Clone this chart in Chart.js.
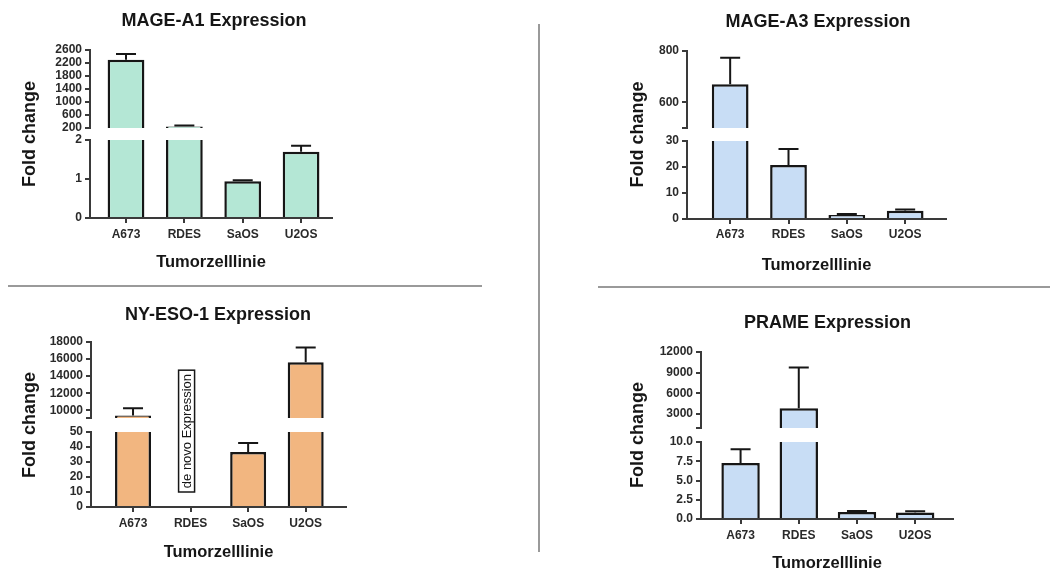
<!DOCTYPE html>
<html lang="de">
<head>
<meta charset="utf-8">
<title>Expression von Tumorantigenen in Tumorzelllinien</title>
<script src="https://cdn.jsdelivr.net/npm/chart.js@4.4.1/dist/chart.umd.min.js"></script>
<style>
  html, body { margin: 0; padding: 0; background: #fff; }
  #page { position: relative; width: 1064px; height: 572px; overflow: hidden; background: #fff; }
  .panel { position: absolute; }
  .rule { position: absolute; background: #9a9a9a; }
</style>
</head>
<body>
<div id="page">
  <div class="panel" id="p-mage-a1"><canvas id="c-mage-a1"></canvas></div>
  <div class="panel" id="p-mage-a3"><canvas id="c-mage-a3"></canvas></div>
  <div class="panel" id="p-ny-eso-1"><canvas id="c-ny-eso-1"></canvas></div>
  <div class="panel" id="p-prame"><canvas id="c-prame"></canvas></div>
  <div class="rule" style="left:8px; top:285px; width:474px; height:2px;"></div>
  <div class="rule" style="left:598px; top:286px; width:452px; height:2px;"></div>
  <div class="rule" style="left:538px; top:24px; width:2px; height:528px;"></div>
</div>
<script>
// ---- data ---------------------------------------------------------------
const cellLines = ['A673', 'RDES', 'SaOS', 'U2OS'];

// fold change (mean) and upper error per cell line
const mageA1Mean = [2300, 250, 0.94, 1.70];
const mageA1Err  = [180, 25, 0.03, 0.15];
const mageA3Mean = [670, 20.8, 1.5, 3.2];
const mageA3Err  = [104, 6.1, 0.4, 0.5];
const nyEso1Mean = [9400, null, 36.7, 15630];
const nyEso1Err  = [830, null, 6, 1730];
const prameMean  = [7.27, 3850, 0.9, 0.85];
const prameErr   = [1.8, 5900, 0.15, 0.15];

// broken y axis: upper and lower segment ranges
const mageA1Upper = [200, 2600];   const mageA1Lower = [0, 2];
const mageA3Upper = [500, 800];    const mageA3Lower = [0, 30];
const nyEso1Upper = [9100, 18000]; const nyEso1Lower = [0, 50];
const prameUpper  = [1000, 12000]; const prameLower  = [0, 10];

// labelled y ticks per segment
const mageA1UpperTicks = [200, 600, 1000, 1400, 1800, 2200, 2600];
const mageA1LowerTicks = [0, 1, 2];
const mageA3UpperTicks = [600, 800];
const mageA3LowerTicks = [0, 10, 20, 30];
const nyEso1UpperTicks = [10000, 12000, 14000, 16000, 18000];
const nyEso1LowerTicks = [0, 10, 20, 30, 40, 50];
const prameUpperTicks  = [3000, 6000, 9000, 12000];
const prameLowerTicks  = [0, 2.5, 5, 7.5, 10];

// ---- styling ------------------------------------------------------------
const FONT = "'Liberation Sans', Arial, Helvetica, sans-serif";
Chart.defaults.font.family = FONT;
const INK = '#161616';
const AXIS = '#3a3a3a';
const TICK_TEXT = '#2a2a2a';
const TICK_LEN = 5;
const BAR_BORDER = 2.5;
const TITLE_SIZE = 18;
const X_TITLE_SIZE = 16.5;
const TICK_SIZE = 12;

// upper error whiskers with a cap, drawn on whichever segment holds the bar top
function errorBarsFor(p) {
  return {
    id: 'errorBars',
    afterDatasetsDraw(chart) {
      const ctx = chart.ctx;
      const xs = chart.scales.x;
      ctx.save();
      ctx.strokeStyle = INK;
      ctx.lineWidth = 2;
      p.mean.forEach((v, i) => {
        const e = p.err[i];
        if (v == null || !e) return;
        const ys = v > p.upper[0] ? chart.scales.yUpper : chart.scales.yLower;
        const x = xs.getPixelForValue(i);
        const yA = ys.getPixelForValue(v);
        const yB = ys.getPixelForValue(v + e);
        ctx.beginPath();
        ctx.moveTo(x, yA);
        ctx.lineTo(x, yB);
        ctx.moveTo(x - 10, yB);
        ctx.lineTo(x + 10, yB);
        ctx.stroke();
      });
      ctx.restore();
    }
  };
}

// framed, rotated text note placed on a category
function noteBoxFor(p) {
  return {
    id: 'noteBox',
    afterDatasetsDraw(chart) {
      const n = p.note;
      if (!n) return;
      const ctx = chart.ctx;
      const cx = chart.scales.x.getPixelForValue(n.cat) + n.shift;
      const yBottom = chart.scales[n.from.axis].getPixelForValue(n.from.value);
      const yTop = chart.scales[n.to.axis].getPixelForValue(n.to.value);
      const w = n.width;
      ctx.save();
      ctx.fillStyle = '#fff';
      ctx.fillRect(cx - w / 2, yTop, w, yBottom - yTop);
      ctx.strokeStyle = INK;
      ctx.lineWidth = 1.5;
      ctx.strokeRect(cx - w / 2, yTop, w, yBottom - yTop);
      ctx.translate(cx, (yTop + yBottom) / 2);
      ctx.rotate(-Math.PI / 2);
      ctx.fillStyle = INK;
      ctx.font = '13px ' + FONT;
      ctx.textAlign = 'center';
      ctx.textBaseline = 'middle';
      ctx.fillText(n.text, 0, 1);
      ctx.restore();
    }
  };
}

function uniqueSorted(list) {
  return Array.from(new Set(list)).sort((a, b) => a - b);
}

function makePanel(p) {
  const g = p.geom;
  const holder = document.getElementById(p.holder);
  Object.assign(holder.style, {
    left: g.box.left + 'px', top: g.box.top + 'px',
    width: g.box.width + 'px', height: g.box.height + 'px'
  });

  const yWidth = g.x0 - g.box.left;
  const rightWidth = g.box.left + g.box.width - g.x1;
  const boxBottom = g.box.top + g.box.height;
  const titleLH = TITLE_SIZE * 1.2;
  const xTitleLH = X_TITLE_SIZE * 1.2;
  const tickLH = TICK_SIZE * 1.2;
  const tickFont = { family: FONT, size: TICK_SIZE, weight: 'bold' };
  const titlePadTop = g.titleY - g.box.top - titleLH / 2;

  const yAxis = (range, labelled, fmt, weight, stackWeight) => ({
    type: 'linear', position: 'left', stack: 'fold', stackWeight, weight,
    min: range[0], max: range[1],
    afterBuildTicks: s => { s.ticks = uniqueSorted(labelled.concat(range)).map(v => ({ value: v })); },
    afterFit: s => { s.width = yWidth; },
    ticks: {
      font: tickFont, color: TICK_TEXT, padding: 3, autoSkip: false,
      callback: v => labelled.includes(v) ? fmt(v) : ''
    },
    grid: { display: true, drawOnChartArea: false, drawTicks: true, tickLength: TICK_LEN, color: AXIS, lineWidth: 2 },
    border: { display: true, color: AXIS, width: 2 }
  });

  const upperData = [];
  const lowerData = [];
  p.mean.forEach((v, i) => {
    if (v == null) return;
    if (v > p.upper[0]) upperData.push({ x: i, y: [p.upper[0], v] });
    lowerData.push({ x: i, y: [0, Math.min(v, p.lower[1])] });
  });

  const common = {
    type: 'bar', grouped: false,
    backgroundColor: p.color, borderColor: INK, borderSkipped: false,
    categoryPercentage: 1, barPercentage: p.barPct
  };

  return new Chart(document.getElementById(p.canvas), {
    type: 'bar',
    data: {
      datasets: [
        Object.assign({}, common, {
          label: 'upper', yAxisID: 'yUpper', data: upperData,
          borderWidth: { top: BAR_BORDER, left: BAR_BORDER, right: BAR_BORDER, bottom: 0 }
        }),
        Object.assign({}, common, {
          label: 'lower', yAxisID: 'yLower', data: lowerData,
          borderWidth: ctx => {
            const v = ctx.raw ? p.mean[ctx.raw.x] : 0;
            return v > p.lower[1]
              ? { top: 0, left: BAR_BORDER, right: BAR_BORDER, bottom: 0 }
              : { top: BAR_BORDER, left: BAR_BORDER, right: BAR_BORDER, bottom: 0 };
          }
        })
      ]
    },
    options: {
      responsive: true, maintainAspectRatio: false, animation: false,
      layout: { padding: 0 },
      plugins: {
        legend: { display: false },
        tooltip: { enabled: false },
        title: {
          display: true, text: p.title, color: INK,
          font: { size: TITLE_SIZE, weight: 'bold' },
          padding: { top: titlePadTop, bottom: (g.y0 - g.box.top) - titlePadTop - titleLH }
        }
      },
      scales: {
        x: {
          type: 'linear', position: 'bottom', min: g.xMin, max: g.xMax, offset: false,
          afterBuildTicks: s => { s.ticks = cellLines.map((_, i) => ({ value: i })); },
          afterFit: s => { s.height = boxBottom - g.y1; },
          ticks: {
            font: tickFont, color: TICK_TEXT, autoSkip: false, maxRotation: 0,
            padding: g.tickY - g.y1 - TICK_LEN - tickLH / 2,
            callback: v => cellLines[v]
          },
          grid: { display: true, offset: false, drawOnChartArea: false, drawTicks: true, tickLength: TICK_LEN, color: AXIS, lineWidth: 2 },
          border: { display: true, color: AXIS, width: 2 },
          title: {
            display: true, text: 'Tumorzelllinie', color: INK,
            font: { size: X_TITLE_SIZE, weight: 'bold' },
            padding: { top: 0, bottom: boxBottom - g.xTitleY - xTitleLH / 2 }
          }
        },
        yUpper: yAxis(p.upper, p.upperTicks, p.fmtUpper, 3, g.gapTop - g.y0),
        yGap: {
          type: 'linear', position: 'left', stack: 'fold', stackWeight: g.gapBottom - g.gapTop, weight: 2,
          afterFit: s => { s.width = yWidth; },
          ticks: { display: false }, grid: { display: false }, border: { display: false },
          title: {
            display: true, text: 'Fold change', color: INK,
            font: { size: TITLE_SIZE, weight: 'bold' },
            padding: { top: g.yTitleX - g.box.left - titleLH / 2, bottom: 0 }
          }
        },
        yLower: yAxis(p.lower, p.lowerTicks, p.fmtLower, 1, g.y1 - g.gapBottom),
        // empty margin to the right of the plot
        margin: {
          type: 'linear', position: 'right',
          afterFit: s => { s.width = rightWidth; },
          ticks: { display: false }, grid: { display: false }, border: { display: false }
        }
      }
    },
    plugins: [errorBarsFor(p), noteBoxFor(p)]
  });
}

const plain = v => String(v);

makePanel({
  holder: 'p-mage-a1', canvas: 'c-mage-a1', title: 'MAGE-A1 Expression',
  mean: mageA1Mean, err: mageA1Err, color: '#b4e7d5', barPct: 0.63,
  upper: mageA1Upper, lower: mageA1Lower,
  upperTicks: mageA1UpperTicks, lowerTicks: mageA1LowerTicks,
  fmtUpper: plain, fmtLower: plain,
  geom: { box: { left: 0, top: 0, width: 428, height: 285 },
          x0: 90, x1: 332, y0: 50, gapTop: 128, gapBottom: 140, y1: 218,
          titleY: 21, tickY: 235, xTitleY: 262, yTitleX: 30, xMin: -0.617, xMax: 3.53 }
});

makePanel({
  holder: 'p-mage-a3', canvas: 'c-mage-a3', title: 'MAGE-A3 Expression',
  mean: mageA3Mean, err: mageA3Err, color: '#c8ddf5', barPct: 0.63,
  upper: mageA3Upper, lower: mageA3Lower,
  upperTicks: mageA3UpperTicks, lowerTicks: mageA3LowerTicks,
  fmtUpper: plain, fmtLower: plain,
  geom: { box: { left: 600, top: 0, width: 436, height: 285 },
          x0: 687, x1: 946, y0: 51, gapTop: 128, gapBottom: 141, y1: 219,
          titleY: 22, tickY: 235, xTitleY: 265, yTitleX: 638, xMin: -0.74, xMax: 3.70 }
});

makePanel({
  holder: 'p-ny-eso-1', canvas: 'c-ny-eso-1', title: 'NY-ESO-1 Expression',
  mean: nyEso1Mean, err: nyEso1Err, color: '#f2b680', barPct: 0.625,
  upper: nyEso1Upper, lower: nyEso1Lower,
  upperTicks: nyEso1UpperTicks, lowerTicks: nyEso1LowerTicks,
  fmtUpper: plain, fmtLower: plain,
  note: { text: 'de novo Expression', cat: 1, shift: -4, width: 16,
          from: { axis: 'yLower', value: 10 }, to: { axis: 'yUpper', value: 14700 } },
  geom: { box: { left: 0, top: 290, width: 436, height: 282 },
          x0: 91, x1: 346, y0: 342, gapTop: 418, gapBottom: 432, y1: 507,
          titleY: 315, tickY: 524, xTitleY: 552, yTitleX: 30, xMin: -0.73, xMax: 3.70 }
});

makePanel({
  holder: 'p-prame', canvas: 'c-prame', title: 'PRAME Expression',
  mean: prameMean, err: prameErr, color: '#c8ddf5', barPct: 0.66,
  upper: prameUpper, lower: prameLower,
  upperTicks: prameUpperTicks, lowerTicks: prameLowerTicks,
  fmtUpper: plain, fmtLower: v => v.toFixed(1),
  geom: { box: { left: 600, top: 295, width: 455, height: 277 },
          x0: 701, x1: 953, y0: 352, gapTop: 428, gapBottom: 442, y1: 519,
          titleY: 323, tickY: 536, xTitleY: 563, yTitleX: 638, xMin: -0.68, xMax: 3.65 }
});
</script>
</body>
</html>
